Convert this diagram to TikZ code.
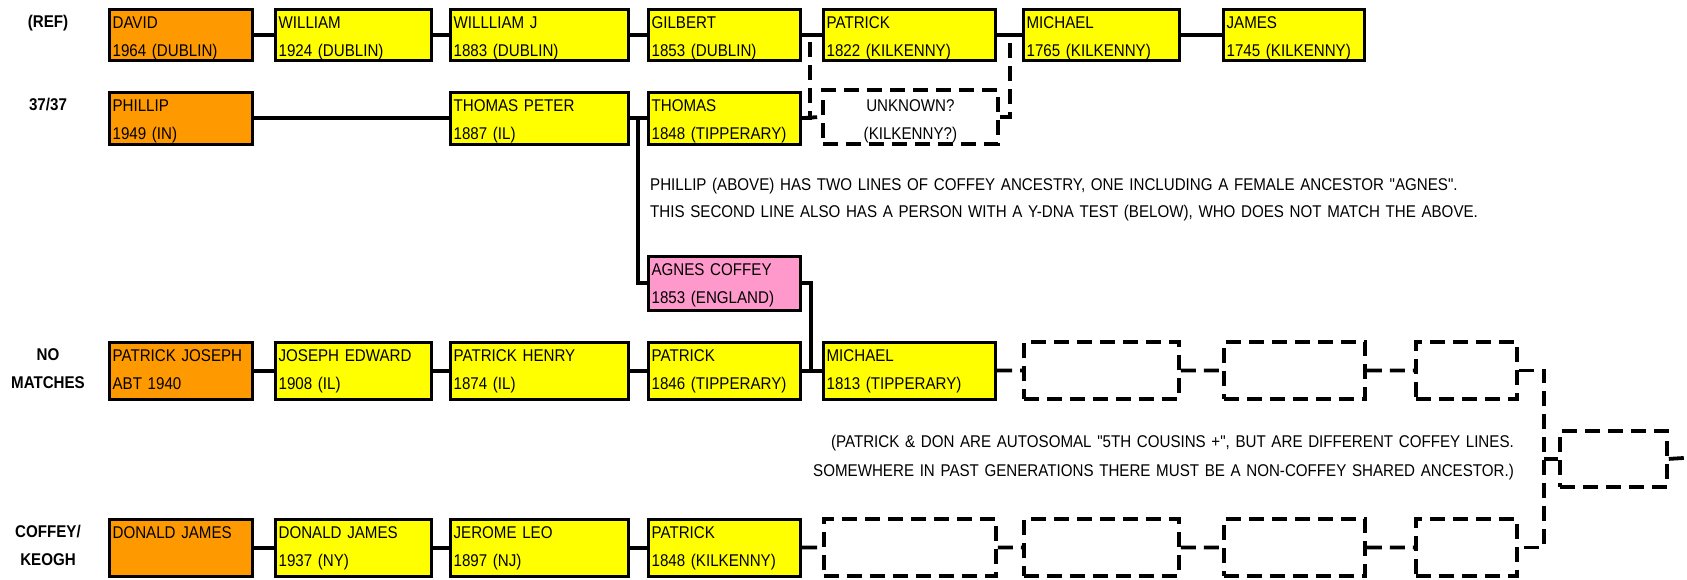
\documentclass[tikz,border=0pt]{standalone}
\usepackage{fontspec}
\newfontfamily\chartfont[FakeStretch=0.89]{Liberation Sans}
\usepackage{tikz}
\usetikzlibrary{positioning,calc}

\definecolor{selfor}{HTML}{FF9900}
\definecolor{ancyel}{HTML}{FFFF00}
\definecolor{agnespk}{HTML}{FF99CC}

\begin{document}
\begin{tikzpicture}[x=1pt,y=-1pt,
  every node/.style={font=\chartfont\fontsize{17}{27.5}\selectfont},
  pbox/.style={draw,line width=3.2pt,anchor=north west,inner xsep=3pt,inner ysep=0pt,align=left,text height=19.5pt},
  selfbox/.style={pbox,fill=selfor},
  ancbox/.style={pbox,fill=ancyel},
  blankbox/.style={draw,line width=3.8pt,dash pattern=on 15pt off 8pt,anchor=north west,inner sep=0pt},
  solidlink/.style={line width=4pt},
  dashlink/.style={line width=3.8pt,dash pattern=on 15pt off 8pt},
  rowlabel/.style={anchor=north,inner sep=0pt,text width=90pt,align=center,text height=12pt,
    font=\chartfont\bfseries\fontsize{17}{28}\selectfont},
  notetext/.style={inner sep=0pt,text height=12pt},
  col1/.style={text width=137pt}, col2/.style={text width=150pt},
  col3/.style={text width=172pt}, col4/.style={text width=146pt},
  col5/.style={text width=166pt}, col6/.style={text width=150pt},
  col7/.style={text width=135pt},
  row1/.style={text depth=31.5pt}, row2/.style={text depth=32.5pt},
  row3/.style={text depth=37.5pt}]
\useasboundingbox (0,0) rectangle (1687,579);

% row labels
\node[rowlabel] (lref) at (48,15) {(REF)};
\node[rowlabel] (lphil) at (48,98) {37/37};
\node[rowlabel] (lnomatch) at (48,348) {NO\\MATCHES};
\node[rowlabel] (lkeogh) at (48,525) {COFFEY/\\KEOGH};

% reference line
\node[selfbox,col1,row1] (david) at (108,7.5) {DAVID\\1964 (DUBLIN)};
\node[ancbox,col2,row1] (william) at (274,7.5) {WILLIAM\\1924 (DUBLIN)};
\node[ancbox,col3,row1] (williamj) at (449,7.5) {WILLLIAM J\\1883 (DUBLIN)};
\node[ancbox,col4,row1] (gilbert) at (647,7.5) {GILBERT\\1853 (DUBLIN)};
\node[ancbox,col5,row1] (patrickk) at (822,7.5) {PATRICK\\1822 (KILKENNY)};
\node[ancbox,col6,row1] (michaelk) at (1022,7.5) {MICHAEL\\1765 (KILKENNY)};
\node[ancbox,col7,row1] (james) at (1222,7.5) {JAMES\\1745 (KILKENNY)};

% phillip
\node[selfbox,col1,row2] (phillip) at (108,90.5) {PHILLIP\\1949 (IN)};
\node[ancbox,col3,row2] (tpeter) at (449,90.5) {THOMAS PETER\\1887 (IL)};
\node[ancbox,col4,row2] (thomas) at (647,90.5) {THOMAS\\1848 (TIPPERARY)};
\node[blankbox,text width=175pt,align=center,text height=22pt,text depth=32pt] (unknown) at (821,88) {UNKNOWN?\\(KILKENNY?)};
\node[pbox,fill=agnespk,col4,text depth=34.5pt] (agnes) at (647,254.5) {AGNES COFFEY\\1853 (ENGLAND)};

% no matches
\node[selfbox,col1,row3] (pjoseph) at (108,340.5) {PATRICK JOSEPH\\ABT 1940};
\node[ancbox,col2,row3] (jedward) at (274,340.5) {JOSEPH EDWARD\\1908 (IL)};
\node[ancbox,col3,row3] (phenry) at (449,340.5) {PATRICK HENRY\\1874 (IL)};
\node[ancbox,col4,row3] (patrickt) at (647,340.5) {PATRICK\\1846 (TIPPERARY)};
\node[ancbox,col5,row3] (michaelt) at (822,340.5) {MICHAEL\\1813 (TIPPERARY)};
\node[blankbox,minimum width=155pt,minimum height=57pt] (ua) at (1022,340) {};
\node[blankbox,minimum width=141pt,minimum height=57pt] (ub) at (1222,340) {};
\node[blankbox,minimum width=101pt,minimum height=57pt] (uc) at (1414,340) {};

% coffey/keogh
\node[selfbox,col1,row3] (donald) at (108,517.5) {DONALD JAMES};
\node[ancbox,col2,row3] (djames) at (274,517.5) {DONALD JAMES\\1937 (NY)};
\node[ancbox,col3,row3] (jerome) at (449,517.5) {JEROME LEO\\1897 (NJ)};
\node[ancbox,col4,row3] (patrickk2) at (647,517.5) {PATRICK\\1848 (KILKENNY)};
\node[blankbox,minimum width=172pt,minimum height=57pt] (ud) at (822,517) {};
\node[blankbox,minimum width=155pt,minimum height=57pt] (ue) at (1022,517) {};
\node[blankbox,minimum width=141pt,minimum height=57pt] (uf) at (1222,517) {};
\node[blankbox,minimum width=101pt,minimum height=57pt] (ug) at (1414,517) {};
\node[blankbox,minimum width=107pt,minimum height=56pt] (uh) at (1558,429) {};

% notes
\node[notetext,anchor=north west,text width=900pt,align=left] (note1) at (650,178)
  {PHILLIP (ABOVE) HAS TWO LINES OF COFFEY ANCESTRY, ONE INCLUDING A FEMALE ANCESTOR "AGNES".\\
   THIS SECOND LINE ALSO HAS A PERSON WITH A Y-DNA TEST (BELOW), WHO DOES NOT MATCH THE ABOVE.};
\node[notetext,anchor=north east,text width=720pt,align=right,font=\chartfont\fontsize{17}{29}\selectfont] (note2) at (1514,435)
  {(PATRICK \& DON ARE AUTOSOMAL "5TH COUSINS +", BUT ARE DIFFERENT COFFEY LINES.\\
   SOMEWHERE IN PAST GENERATIONS THERE MUST BE A NON-COFFEY SHARED ANCESTOR.)};

% solid links
\draw[solidlink] (david) -- (william) -- (williamj) -- (gilbert) -- (patrickk) -- (michaelk) -- (james);
\draw[solidlink] (phillip) -- (tpeter) -- (thomas);
\draw[solidlink] (tpeter.east) -- ++(8,0) |- (agnes.west);
\draw[solidlink] (agnes.east) -- ++(9,0) |- (michaelt.west);
\draw[solidlink] (pjoseph) -- (jedward) -- (phenry) -- (patrickt) -- (michaelt);
\draw[solidlink] (donald) -- (djames) -- (jerome) -- (patrickk2);

% possible links
\draw[dashlink] (thomas.east) -- (unknown.west);
\draw[dashlink] (thomas.east) -- ++(8,0) |- (patrickk.west);
\draw[dashlink] (unknown.east) -- ++(10,0) |- (michaelk.west);
\draw[dashlink] (michaelt) -- (ua) -- (ub) -- (uc);
\draw[dashlink] (patrickk2) -- (ud) -- (ue) -- (uf) -- (ug);
\coordinate (fork) at ($(uc.east)+(25,0)$);
\coordinate (offpage) at (1700,457);
\draw[dashlink] (uc.east) -- (fork) |- (ug.east);
\draw[dashlink] (fork |- uh.west) -- (uh.west);
\draw[dashlink] (uh.east) -- (offpage);
\end{tikzpicture}
\end{document}
